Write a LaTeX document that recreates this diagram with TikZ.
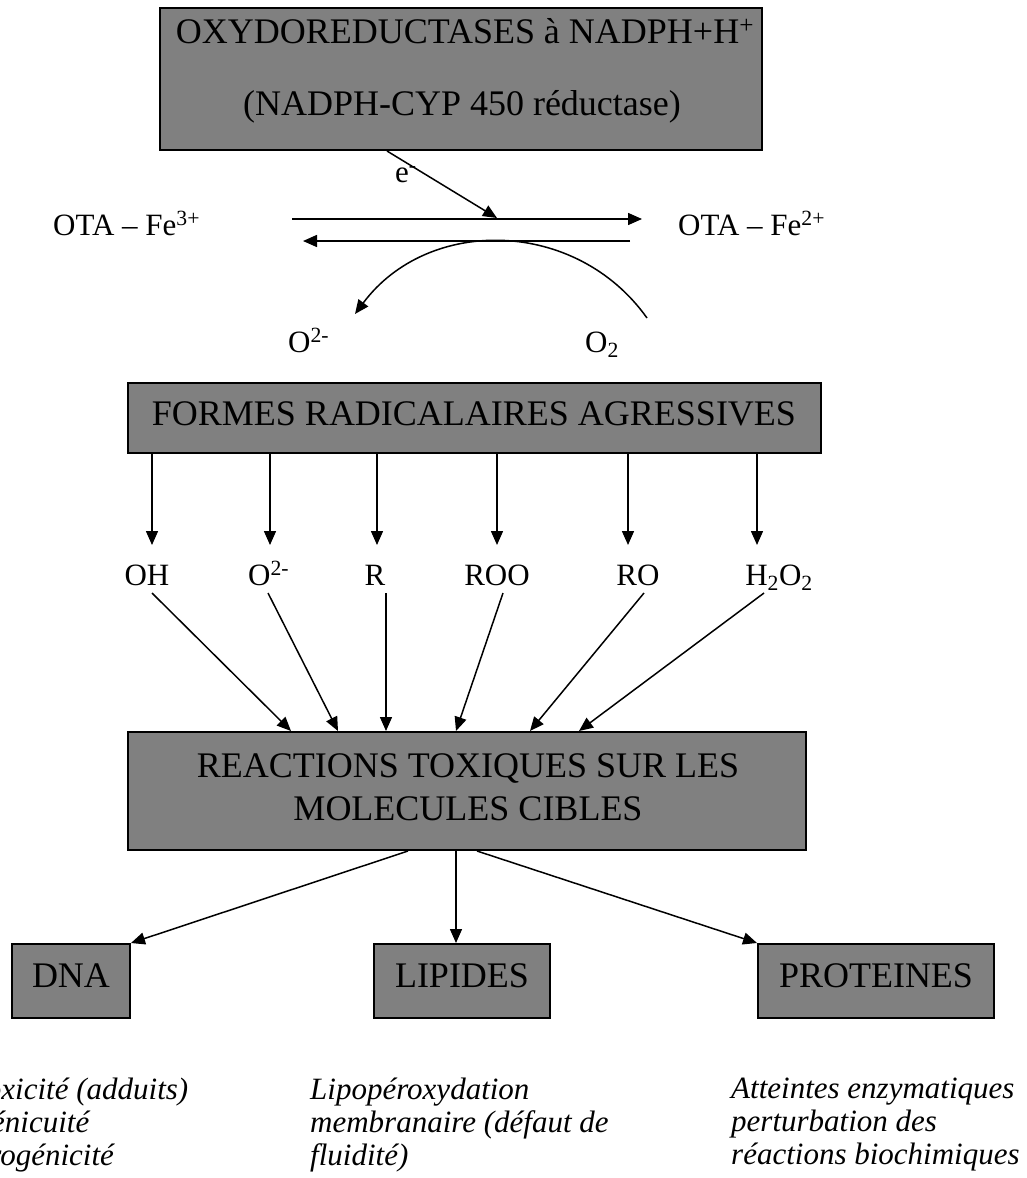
\documentclass[tikz,border=0pt]{standalone}
\usepackage{fontspec}
\setmainfont{Liberation Serif}
\usetikzlibrary{arrows.meta}
\definecolor{boxgray}{RGB}{128,128,128}

\begin{document}
\begin{tikzpicture}[x=1pt, y=-1pt,
    box/.style={draw, line width=2pt, fill=boxgray, inner sep=0pt},
    btxt/.style={font=\fontsize{36}{43}\selectfont, inner sep=0pt, anchor=base},
    lbl/.style={font=\fontsize{31}{37}\selectfont, inner sep=0pt, anchor=base},
    itl/.style={font=\fontsize{31}{33}\selectfont\itshape, inner sep=0pt, align=left, anchor=north west},
    arr/.style={-{Triangle[length=14pt, width=12pt]}, line width=1.5pt}
]
\useasboundingbox (0,0) rectangle (1026,1178);

% enzyme box
\node[box, minimum width=602, minimum height=142] (oxy) at (461,79) {};
\node[btxt] (oxyA) at (465,43) {OXYDOREDUCTASES à NADPH+H\textsuperscript{+}};
\node[btxt] (oxyB) at (462,115) {(NADPH-CYP 450 réductase)};

% redox cycle
\node[lbl, anchor=base west] (fe3) at (53,235) {OTA \textendash{} Fe\textsuperscript{3+}};
\node[lbl, anchor=base west] (fe2) at (678,235) {OTA \textendash{} Fe\textsuperscript{2+}};
\node[lbl, anchor=base west] (elec) at (395,182) {e\textsuperscript{-}};
\node[lbl, anchor=base west] (ooM) at (288,352) {O\textsuperscript{2-}};
\node[lbl, anchor=base west] (ooT) at (585,352) {O\textsubscript{2}};
\coordinate (fwdA) at (292,219); \coordinate (fwdB) at (642,219);
\coordinate (bckA) at (630,241); \coordinate (bckB) at (303,241);
\coordinate (eIn) at (497,218);
\coordinate (arcA) at (647,318); \coordinate (arcB) at (355,314);
\draw[arr] (fwdA) -- (fwdB);
\draw[arr] (bckA) -- (bckB);
\draw[arr] (oxy.south -| 387,0) -- (eIn);
\draw[arr] (arcA) .. controls (576,218) and (428,216) .. (arcB);

% radicals
\node[box, minimum width=693, minimum height=70] (rad) at (474.5,418) {};
\node[btxt] (radT) at (474,425) {FORMES RADICALAIRES AGRESSIVES};
\node[lbl] (oh) at (147,585) {OH};
\node[lbl, anchor=base west] (om) at (248,585) {O\textsuperscript{2-}};
\node[lbl] (rr) at (375,585) {R};
\node[lbl] (roo) at (497,585) {ROO};
\node[lbl] (ro) at (638,585) {RO};
\node[lbl] (hoo) at (779,585) {H\textsubscript{2}O\textsubscript{2}};
\draw[arr] (rad.south -| 152,0) -- (152,545);
\draw[arr] (rad.south -| 270,0) -- (270,545);
\draw[arr] (rad.south -| 377,0) -- (377,545);
\draw[arr] (rad.south -| 497,0) -- (497,545);
\draw[arr] (rad.south -| 628,0) -- (628,545);
\draw[arr] (rad.south -| 757,0) -- (757,545);

% target molecules
\node[box, minimum width=678, minimum height=118] (tox) at (467,791) {};
\node[btxt] (toxA) at (468,777) {REACTIONS TOXIQUES SUR LES};
\node[btxt] (toxB) at (468,820) {MOLECULES CIBLES};
\draw[arr] (152,593) -- (tox.north -| 291,0);
\draw[arr] (268,593) -- (tox.north -| 338,0);
\draw[arr] (386,593) -- (tox.north -| 386,0);
\draw[arr] (503,593) -- (tox.north -| 456,0);
\draw[arr] (644,593) -- (tox.north -| 530,0);
\draw[arr] (764,593) -- (tox.north -| 579,0);

% effects
\node[box, minimum width=118, minimum height=74] (dna) at (71,981) {};
\node[btxt] (dnaT) at (71,987) {DNA};
\node[box, minimum width=176, minimum height=74] (lip) at (462,981) {};
\node[btxt] (lipT) at (462,987) {LIPIDES};
\node[box, minimum width=236, minimum height=74] (prot) at (876,981) {};
\node[btxt] (protT) at (876,987) {PROTEINES};
\draw[arr] (tox.south -| 408,0) -- (dna.north east);
\draw[arr] (tox.south -| 456,0) -- (lip.north -| 456,0);
\draw[arr] (tox.south -| 477,0) -- (prot.north west);

\node[itl] (dnaE) at (-90,1078) {Génotoxicité (adduits)\\Mutagénicuité\\Cancérogénicité};
\node[itl] (lipE) at (310,1078) {Lipopéroxydation\\membranaire (défaut de\\fluidité)};
\node[itl] (protE) at (731,1078) {Atteintes enzymatiques\\perturbation des\\réactions biochimiques};
\end{tikzpicture}
\end{document}
